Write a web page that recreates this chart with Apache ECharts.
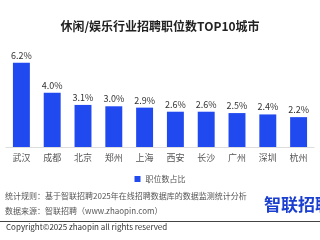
<!DOCTYPE html>
<html><head><meta charset="utf-8">
<script src="https://cdn.jsdelivr.net/npm/echarts@6/dist/echarts.min.js"></script>
<style>html,body{margin:0;padding:0;background:#fff}#c{width:320px;height:240px}</style>
</head><body><div id="c"></div>
<script>
const cities = ['武汉','成都','北京','郑州','上海','西安','长沙','广州','深圳','杭州'];
const shares = [6.2, 4.0, 3.1, 3.0, 2.9, 2.6, 2.6, 2.5, 2.4, 2.2];
const seriesName = '职位数占比';
const titleText = '休闲/娱乐行业招聘职位数TOP10城市';
const footLines = ['统计规则：基于智联招聘2025年在线招聘数据库的数据监测统计分析', '数据来源：智联招聘（www.zhaopin.com）'];
const copyright = 'Copyright©2025 zhaopin all rights reserved';
const logo = '智联招聘';

const chart = echarts.init(document.getElementById('c'), null, {renderer:'canvas'});
const F = '"Noto Sans CJK SC", "Noto Sans", sans-serif';
chart.setOption({
  animation:false,
  backgroundColor:'#fff',
  title:{text:titleText,left:'center',top:15,textStyle:{fontFamily:F,fontSize:12,fontWeight:'bold',color:'#222'}},
  legend:{data:[seriesName],bottom:52,left:'center',itemWidth:6,itemHeight:6,itemGap:4,icon:'rect',textStyle:{fontFamily:F,fontSize:8,color:'#555'}},
  grid:{left:6,right:6,top:52,bottom:93,containLabel:false},
  xAxis:{type:'category',data:cities,axisTick:{show:false},axisLine:{lineStyle:{color:'#ddd'}},axisLabel:{fontFamily:F,fontSize:9,color:'#555',margin:6}},
  yAxis:{type:'value',min:0,max:7,show:false,splitLine:{show:false}},
  series:[{name:seriesName,type:'bar',data:shares,barWidth:'55%',itemStyle:{color:'#2149f0'},
    label:{show:true,position:'top',distance:3,formatter:p=>p.value.toFixed(1)+'%',fontFamily:F,fontSize:9,color:'#333'}}],
  graphic:[
    {type:'text',left:5,top:192,style:{text:footLines[0],font:'8px '+F,fill:'#555'}},
    {type:'text',left:5,top:207,style:{text:footLines[1],font:'8px '+F,fill:'#555'}},
    {type:'text',left:264,top:196,style:{text:logo,font:'bold 17px '+F,fill:'#1a3fd0'}},
    {type:'line',shape:{x1:0,y1:221.5,x2:320,y2:221.5},style:{stroke:'#444',lineWidth:1}},
    {type:'text',left:6,top:223,style:{text:copyright,font:'8px '+F,fill:'#333'}}
  ]
});
</script></body></html>
